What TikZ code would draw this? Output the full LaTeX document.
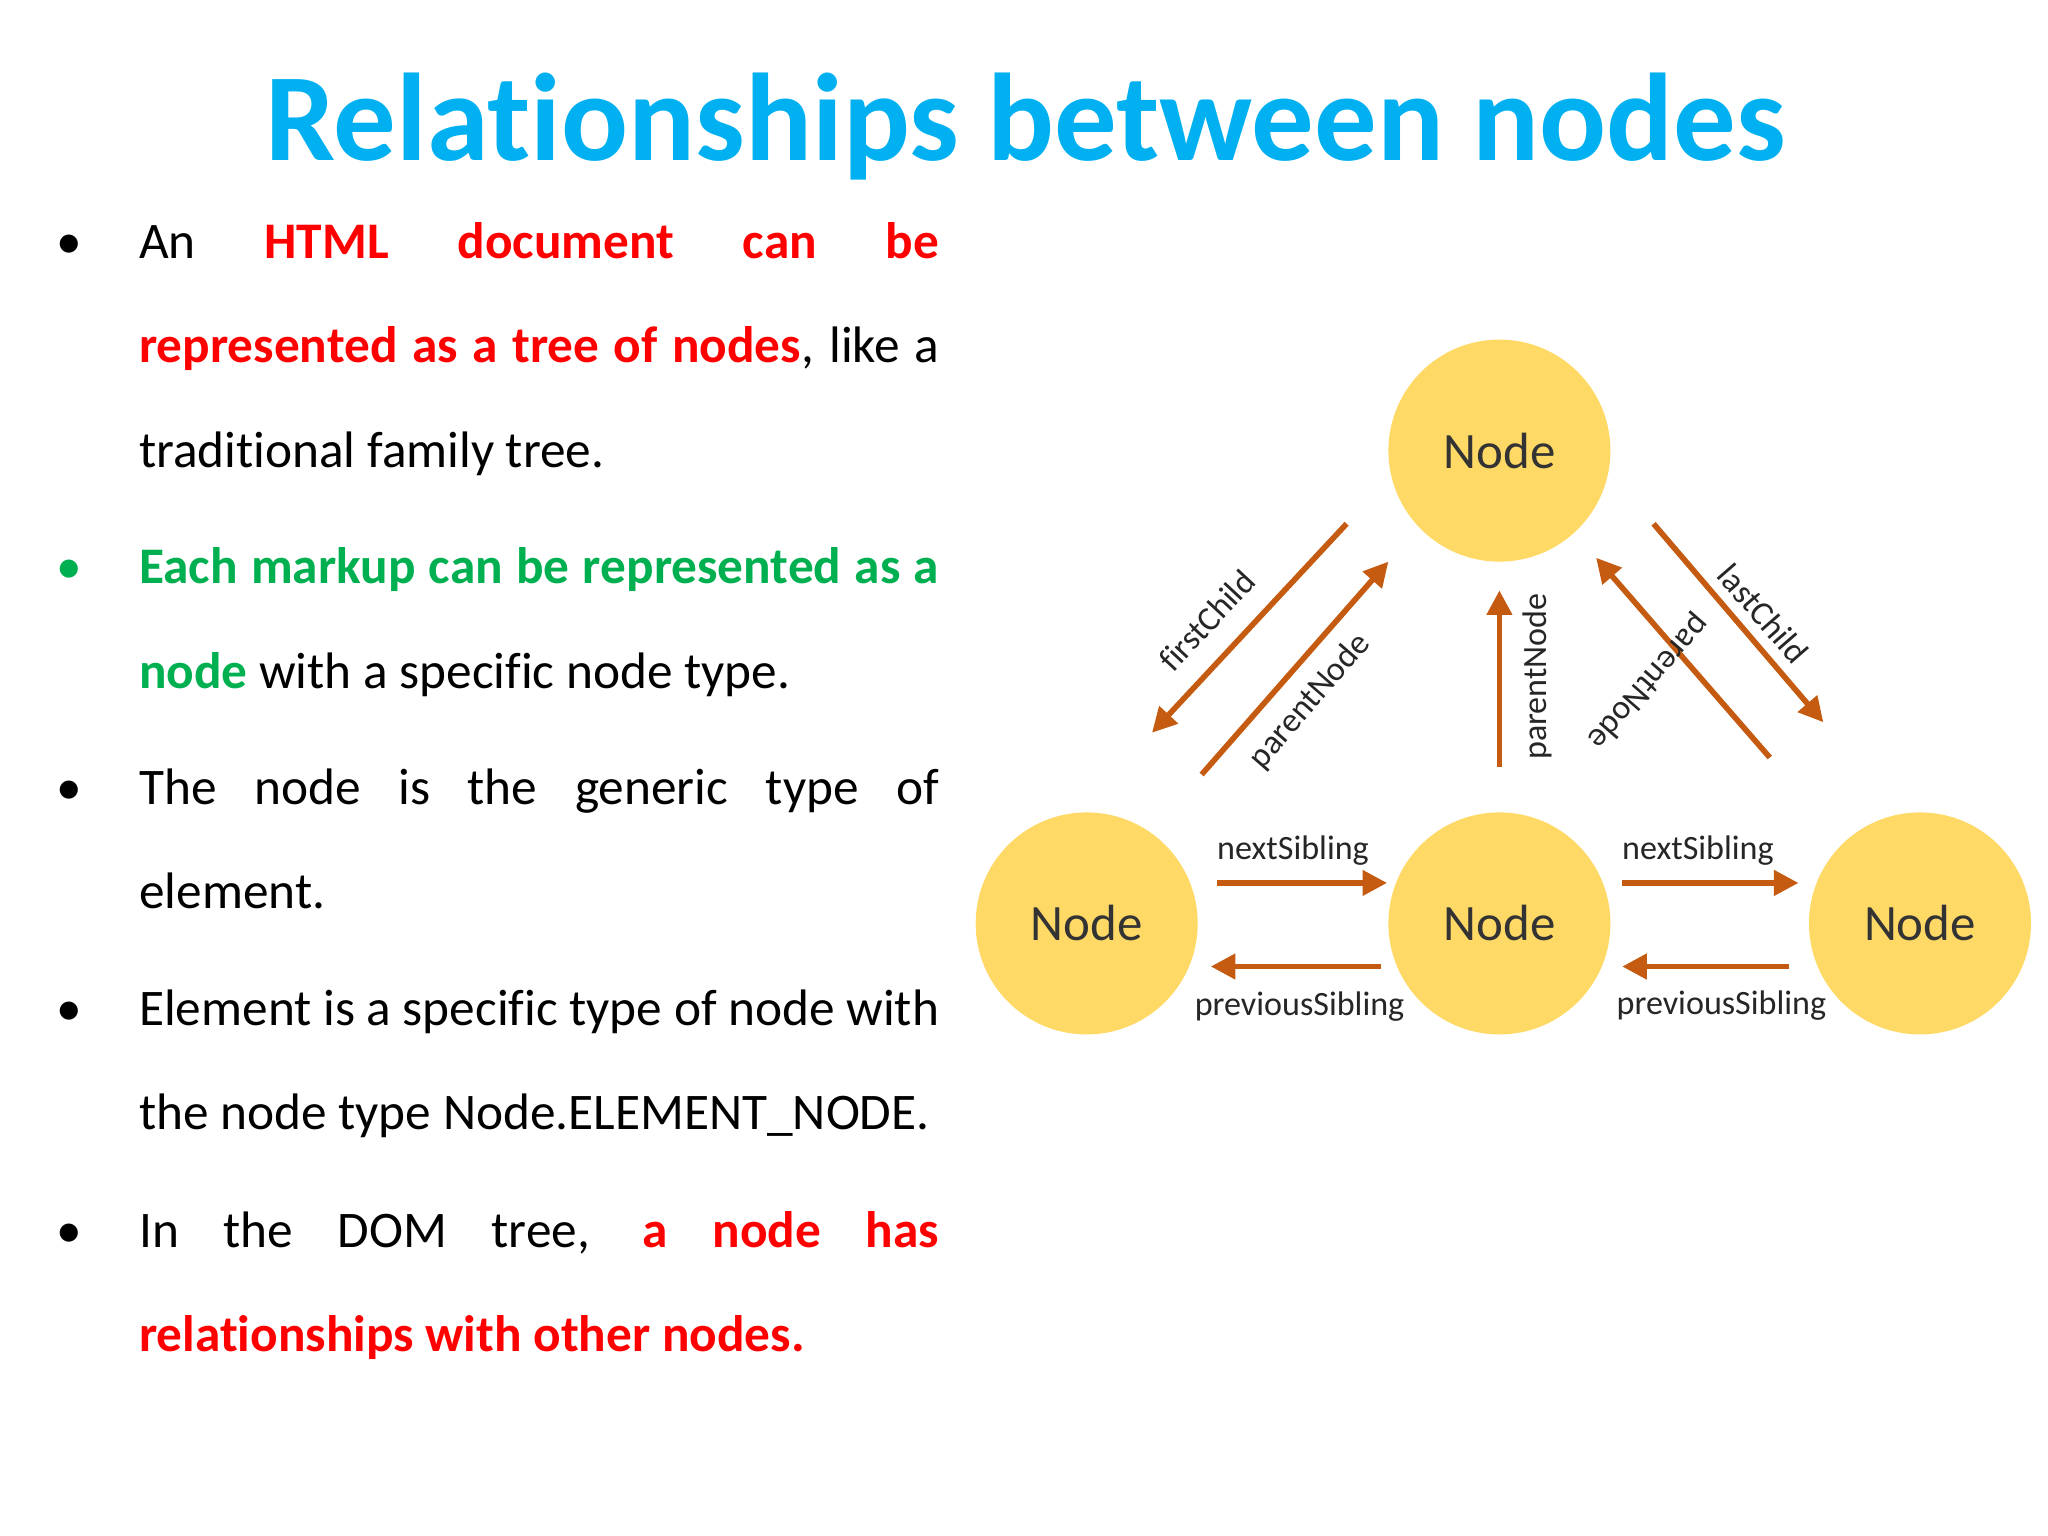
\documentclass[tikz,border=0pt]{standalone}
\usepackage{fontspec}
\setmainfont[Ligatures={NoCommon}]{Carlito}
\usetikzlibrary{arrows.meta}
\definecolor{tblue}{RGB}{0,176,240}
\definecolor{tred}{RGB}{255,0,0}
\definecolor{tgreen}{RGB}{0,176,80}
\definecolor{nfill}{RGB}{255,217,102}
\definecolor{arr}{RGB}{197,90,17}
\begin{document}
\hyphenpenalty=10000 \exhyphenpenalty=10000
\begin{tikzpicture}[x=0.013061cm,y=-0.013061cm,
  circ/.style={circle,fill=nfill,minimum size=170*0.013061cm,inner sep=0pt,font=\fontsize{14.5}{15}\selectfont,text=black!80},
  rel/.style={draw=arr,line width=1.6pt,-{Triangle[length=7pt,width=7pt]}},
  lab/.style={font=\fontsize{9.7}{10}\selectfont,text=black!85,inner sep=1pt},
  txt/.style={anchor=base west,text width=8.0cm,align=justify,inner sep=0pt,
    font=\fontsize{14.6}{29.7}\selectfont},
  bul/.style={anchor=base,font=\fontsize{14.6}{20}\selectfont}]
\useasboundingbox (0,0) rectangle (1568,1176);
\node[font=\bfseries\fontsize{35.5}{36}\selectfont,text=tblue] (title) at (785,97) {Relationships between nodes};
\node[txt] (t1) at (106,198) {An \textbf{\color{tred}HTML document can be represented as a tree of nodes}, like a traditional family tree.};
\node[txt] (t2) at (106,447) {{\bfseries\color{tgreen}Each markup can be represented as a node} with a specific node type.};
\node[txt] (t3) at (106,616) {The node is the generic type of element.};
\node[txt] (t4) at (106,785) {Element is a specific type of node with the node type Node.ELEMENT\_NODE.};
\node[txt] (t5) at (106,955) {In the DOM tree, \textbf{\color{tred}a node has relationships with other nodes.}};
\node[bul] (b1) at (53,198) {•};
\node[bul,text=tgreen] (b2) at (53,447) {•};
\node[bul] (b3) at (53,616) {•};
\node[bul] (b4) at (53,785) {•};
\node[bul] (b5) at (53,955) {•};
\node[circ] (top) at (1148,345) {Node};
\node[circ] (left) at (832,707) {Node};
\node[circ] (mid) at (1148,707) {Node};
\node[circ] (right) at (1470,707) {Node};
\coordinate (a1) at (1031,401); \coordinate (a2) at (882,561);
\coordinate (b1) at (920,593); \coordinate (b2) at (1063,430);
\coordinate (c1) at (1148,587); \coordinate (c2) at (1148,452);
\coordinate (d1) at (1355,580); \coordinate (d2) at (1222,427);
\coordinate (e1) at (1266,401); \coordinate (e2) at (1396,553);
\coordinate (f1) at (932,676); \coordinate (f2) at (1062,676);
\coordinate (g1) at (1057,740); \coordinate (g2) at (927,740);
\coordinate (h1) at (1242,676); \coordinate (h2) at (1377,676);
\coordinate (i1) at (1370,740); \coordinate (i2) at (1242,740);
\draw[rel] (a1) -- (a2);
\draw[rel] (b1) -- (b2);
\draw[rel] (c1) -- (c2);
\draw[rel] (d1) -- (d2);
\draw[rel] (e1) -- (e2);
\draw[rel] (f1) -- (f2);
\draw[rel] (g1) -- (g2);
\draw[rel] (h1) -- (h2);
\draw[rel] (i1) -- (i2);
\node[lab,rotate=47] (l1) at (924,475) {firstChild};
\node[lab,rotate=49] (l2) at (1003,537) {parentNode};
\node[lab,rotate=90] (l3) at (1177,518) {parentNode};
\node[lab,rotate=229] (l4) at (1262,522) {parentNode};
\node[lab,rotate=-49] (l5) at (1350,470) {lastChild};
\node[lab] (l6) at (990,651) {nextSibling};
\node[lab] (l7) at (995,771) {previousSibling};
\node[lab] (l8) at (1300,651) {nextSibling};
\node[lab] (l9) at (1318,770) {previousSibling};
\end{tikzpicture}
\end{document}
